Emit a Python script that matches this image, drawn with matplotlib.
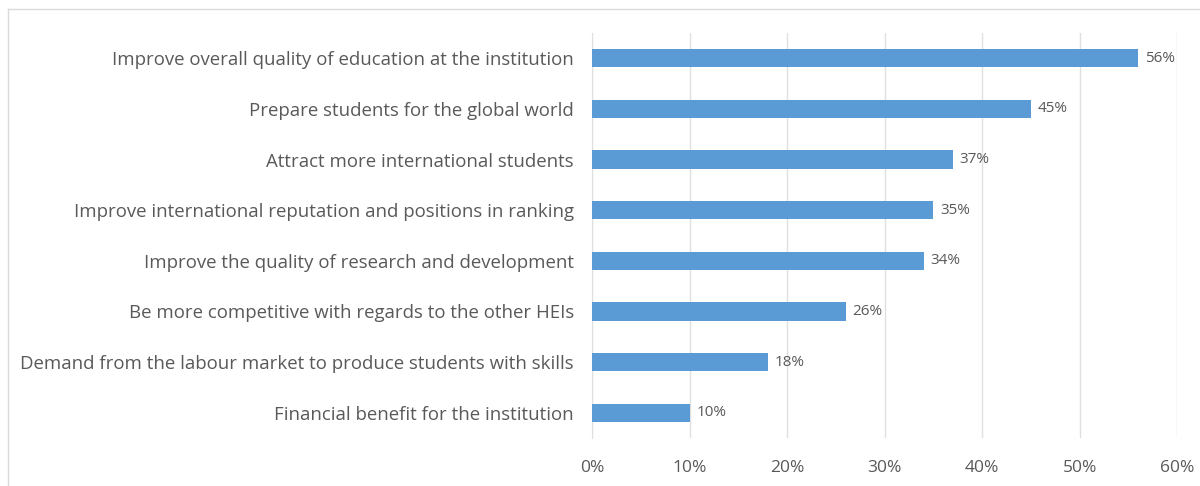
import matplotlib.pyplot as plt
from matplotlib.lines import Line2D

reasons = [
    "Improve overall quality of education at the institution",
    "Prepare students for the global world",
    "Attract more international students",
    "Improve international reputation and positions in ranking",
    "Improve the quality of research and development",
    "Be more competitive with regards to the other HEIs",
    "Demand from the labour market to produce students with skills",
    "Financial benefit for the institution",
]
shares = [56, 45, 37, 35, 34, 26, 18, 10]
xticks = [0, 10, 20, 30, 40, 50, 60]

plt.rcParams['font.family'] = ['Open Sans', 'DejaVu Sans']
text_col = "#595959"
bar_col = "#5B9BD5"

fig = plt.figure(figsize=(12, 4.86), dpi=100)
ax = fig.add_axes([0.4933, 0.0988, 0.4877, 0.8332])

pos = list(range(len(reasons)))
ax.barh(pos, shares, height=0.36, color=bar_col, zorder=3)
for y, v in zip(pos, shares):
    ax.text(v + 0.7, y, f"{v}%", va="center", ha="left",
            fontsize=11, color=text_col)

ax.set_ylim(len(reasons) - 0.5, -0.5)
ax.set_yticks(pos)
ax.set_yticklabels(reasons, fontsize=13.4, color=text_col)
ax.set_xlim(0, 60)
ax.set_xticks(xticks)
ax.set_xticklabels([f"{t}%" for t in xticks], fontsize=12.5, color=text_col)
ax.tick_params(length=0)
ax.tick_params(axis="x", pad=16)
ax.tick_params(axis="y", pad=13)
ax.grid(axis="x", color="#E0E0E0", linewidth=1, zorder=0)
for s in ["top", "right", "bottom"]:
    ax.spines[s].set_visible(False)
ax.spines["left"].set_color("#E0E0E0")

# light frame around the chart area
fig.add_artist(Line2D([8 / 1200, 8 / 1200], [0, 1 - 9 / 486],
                      transform=fig.transFigure, color="#DADADA", lw=1))
fig.add_artist(Line2D([8 / 1200, 1], [1 - 9 / 486, 1 - 9 / 486],
                      transform=fig.transFigure, color="#DADADA", lw=1))

fig.savefig("out.png", dpi=100)
